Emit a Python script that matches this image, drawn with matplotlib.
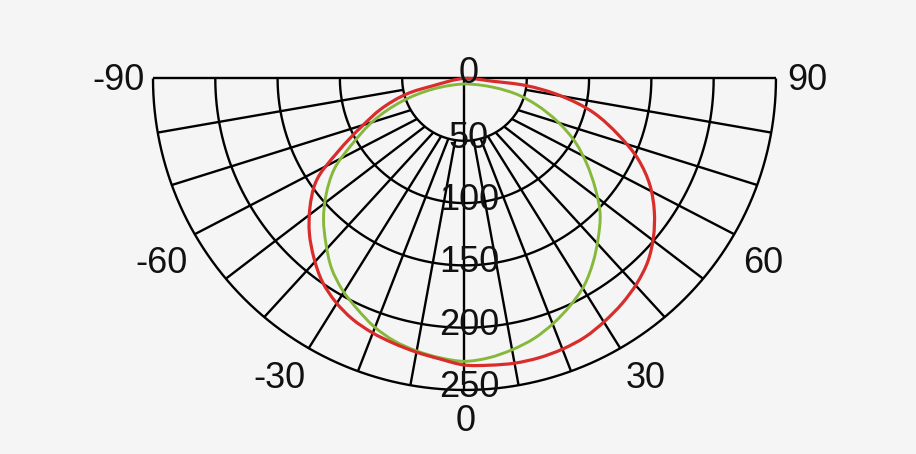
import numpy as np
import matplotlib
matplotlib.use("Agg")
import matplotlib.pyplot as plt
from matplotlib.path import Path
from matplotlib.patches import PathPatch

# ---------------- data ----------------
# red curve: intensity (cd) against angle (deg from nadir), traced round the loop
red_angles = [-90, -77, -75, -70, -65, -60, -55, -50, -45, -40, -35, -30, -25, -20,
              -15, -10, -5, 0, 5, 10, 15, 20, 25, 30, 35, 40, 45, 50, 55, 60, 65, 70,
              75, 80, 83.4, 84.4, 90]
red_intensity = [0, 26, 48, 71, 91, 117, 146, 162, 176, 188, 199, 207, 213, 217,
                 220, 223, 226, 230, 231, 232, 232, 231, 229, 225, 220.5, 215, 208, 198,
                 186, 172, 154, 131, 108, 77, 50, 23, 0]
# green curve: traced round its closed loop (lower side, then the upper side near the centre)
green_angles = [-71.4, -70, -65, -60, -55, -50, -45, -40, -35, -30, -25, -20, -15, -10,
                -5, 0, 5, 10, 15, 20, 25, 30, 35, 40, 45, 50, 55, 60, 65, 70,
                72.8, 73.0, 66.6, 0, -65]
green_intensity = [26.4, 53, 81, 103, 128, 145, 160, 173, 186, 196, 204, 212, 218, 222,
                   225, 227, 225, 221, 216, 209, 201, 192, 180, 167, 154, 137, 120, 103, 83, 61,
                   46.6, 24.2, 13.1, 4.4, 13.3]
ring_values = [50, 100, 150, 200, 250]
radial_tick_values = [0, 50, 100, 150, 200, 250]
radial_tick_labels = ["0", "50", "100", "150", "200", "250"]
angle_tick_labels = ["-90", "-60", "-30", "0", "30", "60", "90"]

# ---------------- layout ----------------
# grid spoke geometry (outer angle -> angle where spoke meets inner ring)
spoke_outer = [10, 20, 30, 40, 50, 60, 70, 80]
spoke_inner = [8.5, 15, 22, 30, 39.5, 49.5, 59.5, 79.5]
# visual centres of the angle labels (data units)
angle_label_xy = {
    "-90": (-277.3, 1.2), "-60": (-242.8, -145.7), "-30": (-148.9, -238.0),
    "0": (1.2, -272.5),
    "30": (145.7, -238.0), "60": (239.8, -145.7), "90": (275.3, 1.2),
}

BG = "#f5f5f5"
RED = "#d82d2b"
GREEN = "#86b83c"
FONT = ["Liberation Sans", "DejaVu Sans"]
FS = 26
HALF_DIGIT = 10.4  # half digit height in data units


def to_xy(theta_deg, r):
    t = np.radians(np.asarray(theta_deg, dtype=float))
    r = np.asarray(r, dtype=float)
    return r * np.sin(t), -r * np.cos(t)


def smooth_closed_path(x, y):
    P = np.column_stack([x, y])
    if np.allclose(P[0], P[-1]):
        P = P[:-1]
    n = len(P)
    verts = [P[0]]
    codes = [Path.MOVETO]

    def tangent(i):
        p0, p1, p2 = P[(i - 1) % n], P[i], P[(i + 1) % n]
        d0 = np.linalg.norm(p1 - p0)
        d1 = np.linalg.norm(p2 - p1)
        return ((p1 - p0) / d0 * d1 + (p2 - p1) / d1 * d0) / (d0 + d1)

    for i in range(n):
        p1, p2 = P[i], P[(i + 1) % n]
        d = np.linalg.norm(p2 - p1)
        c1 = p1 + tangent(i) * d / 3.0
        c2 = p2 - tangent((i + 1) % n) * d / 3.0
        verts += [c1, c2, p2]
        codes += [Path.CURVE4] * 3
    return Path(np.array(verts), codes)


fig = plt.figure(figsize=(9.16, 4.54), dpi=100, facecolor=BG)
ax = fig.add_axes([0, 0, 1, 1])
ax.set_facecolor(BG)
ax.set_xlim(-372.8, 362.4)
ax.set_ylim(-301.4, 63.0)
ax.axis("off")

gkw = dict(color="black", lw=1.7, solid_capstyle="butt", zorder=1)
rmax = ring_values[-1]
rmin = ring_values[0]

# horizontal diameter
ax.plot([-rmax, rmax], [0, 0], **gkw)
# rings
arc = np.linspace(-90, 90, 361)
for rv in ring_values:
    x, y = to_xy(arc, np.full_like(arc, rv))
    ax.plot(x, y, **gkw)
# vertical spoke
ax.plot([0, 0], [0, -rmax], **gkw)
# other spokes
for so, si in zip(spoke_outer, spoke_inner):
    for sgn in (-1, 1):
        x0, y0 = to_xy(sgn * si, rmin)
        x1, y1 = to_xy(sgn * so, rmax)
        ax.plot([x0, x1], [y0, y1], **gkw)

# curves
gx, gy = to_xy(green_angles, green_intensity)
ax.add_patch(PathPatch(smooth_closed_path(gx, gy), fill=False, edgecolor=GREEN,
                       lw=2.1, zorder=3, joinstyle="round"))
rx, ry = to_xy(red_angles, red_intensity)
ax.add_patch(PathPatch(smooth_closed_path(rx, ry), fill=False, edgecolor=RED,
                       lw=2.3, zorder=4, joinstyle="round"))

# radial labels
for v, lab in zip(radial_tick_values, radial_tick_labels):
    yb = -v - 5.5 if v > 0 else -3.6
    ax.text(3.6, yb, lab, ha="center", va="baseline", fontsize=FS,
            family=FONT, color="#111111", zorder=5)

# angle labels
for lab in angle_tick_labels:
    x, y = angle_label_xy[lab]
    ax.text(x, y - HALF_DIGIT, lab, ha="center", va="baseline", fontsize=FS,
            family=FONT, color="#111111", zorder=5)

fig.savefig("out.png", dpi=100, facecolor=BG)
